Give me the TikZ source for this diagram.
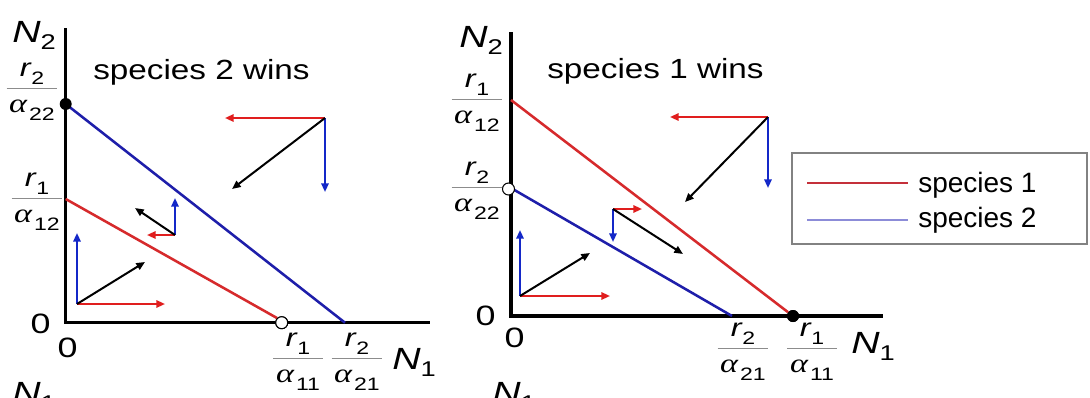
\documentclass[tikz,border=0pt]{standalone}
\usepackage{fontspec}
\usetikzlibrary{arrows.meta}
\newfontfamily\sfw[FakeStretch=1.28]{Liberation Sans}
\newfontfamily\sft[FakeStretch=1.2]{Liberation Sans}
\newfontfamily\sfn{Liberation Sans}
\newfontfamily\grk[FakeStretch=1.28]{Liberation Serif}
\definecolor{plotred}{RGB}{214,42,44}
\definecolor{plotblue}{RGB}{30,30,170}
\definecolor{arrred}{RGB}{224,30,30}
\definecolor{arrblue}{RGB}{20,40,200}
\definecolor{legred}{RGB}{196,48,58}
\definecolor{legblue}{RGB}{140,140,216}
\definecolor{fracgray}{RGB}{140,140,140}
\definecolor{boxgray}{RGB}{130,130,130}
\newcommand\rsym[1]{{\fontsize{19}{19}\selectfont\sfw\itshape r}\kern0.5pt\raisebox{-6pt}{\fontsize{13.5}{13.5}\selectfont\sfw #1}}
\newcommand\asym[1]{{\fontsize{20}{20}\selectfont\grk\itshape α}\kern1.5pt\raisebox{-6.5pt}{\fontsize{13.5}{13.5}\selectfont\sfw #1}}
\newcommand\fr[2]{\vbox{\halign{\hfil\kern2pt##\kern2pt\hfil\cr\smash{#1}\cr\noalign{\kern8.5pt{\color{fracgray}\hrule height 1pt}\kern17pt}\smash{#2}\cr}}}
\newcommand\Nlab[1]{{\fontsize{23}{23}\selectfont\sfw\itshape N}\raisebox{-5.5pt}{\fontsize{16}{16}\selectfont\sfw #1}}
\tikzset{
  axis/.style={line width=2.3pt, black},
  redl/.style={line width=1.9pt, plotred},
  bluel/.style={line width=1.9pt, plotblue},
  arr/.style={line width=1.5pt, -{Triangle[length=6.5pt,width=5.5pt]}},
  rarr/.style={arr, arrred},
  barr/.style={arr, arrblue},
  karr/.style={arr, black},
  lbl/.style={inner sep=0pt, anchor=base west},
  frac/.style={inner sep=0pt, anchor=base},
  zero/.style={inner sep=0pt, font=\sfw\fontsize{21}{21}\selectfont},
  title/.style={inner sep=0pt, anchor=base west, font=\sft\fontsize{20.8}{21}\selectfont},
  legtxt/.style={inner sep=0pt, anchor=base west, font=\sfn\fontsize{21}{21}\selectfont},
  fulldot/.style={circle, fill=black, inner sep=0pt, minimum size=9pt},
  opendot/.style={circle, fill=white, draw=black, line width=0.8pt, inner sep=0pt, minimum size=9pt},
}
\begin{document}
\begin{tikzpicture}[x=0.75pt, y=-0.75pt]
\useasboundingbox (0,0) rectangle (1090,397);
\clip (0,0) rectangle (1090,397);
\fill[white] (0,0) rectangle (1090,397);

% ---------------- left panel ----------------
\coordinate (lorig) at (65.7,322.7);
\coordinate (lytop) at (65.7,28);
\coordinate (lxend) at (430,322.7);
\coordinate (lb0) at (65.7,104);
\coordinate (lb1) at (345,322.7);
\coordinate (lr0) at (65.7,199);
\draw[axis] (lytop) -- (lorig) -- (lxend);
\node[opendot] (lopen) at (281.7,322.7) {};
\draw[bluel] (lb0) -- (lb1);
\draw[redl] (lr0) -- (lopen.north west);
\node[opendot] at (lopen) {};
\node[fulldot] (lfull) at (lb0) {};

\node[lbl] (lN2) at (12,42) {\Nlab{2}};
\node[lbl] (lN1) at (392,369) {\Nlab{1}};
\node[title] (ltitle) at (93,79) {species 2 wins};
\node[zero] (lzy) at (40.5,324) {0};
\node[zero] (lzx) at (67.5,347.5) {0};
\node[frac] (lf1) at (32,112) {\fr{\rsym{2}}{\asym{22}}};
\node[frac] (lf2) at (37,222) {\fr{\rsym{1}}{\asym{12}}};
\node[frac] (lf3) at (298,382) {\fr{\rsym{1}}{\asym{11}}};
\node[frac] (lf4) at (357,382) {\fr{\rsym{2}}{\asym{21}}};

\coordinate (la) at (77,304);
\coordinate (la1) at (77,233);
\coordinate (la2) at (165,304);
\coordinate (la3) at (145,262);
\draw[barr] (la) -- (la1);
\draw[rarr] (la) -- (la2);
\draw[karr] (la) -- (la3);
\coordinate (lp) at (175,235);
\coordinate (lp1) at (175,198);
\coordinate (lp2) at (147,235);
\coordinate (lp3) at (135,208);
\draw[barr] (lp) -- (lp1);
\draw[rarr] (lp) -- (lp2);
\draw[karr] (lp) -- (lp3);
\coordinate (lq) at (325,118);
\coordinate (lq1) at (225,118);
\coordinate (lq2) at (325,192);
\coordinate (lq3) at (232,189);
\draw[rarr] (lq) -- (lq1);
\draw[barr] (lq) -- (lq2);
\draw[karr] (lq) -- (lq3);

% ---------------- right panel ----------------
\coordinate (rorig) at (511,316);
\coordinate (rytop) at (511,32);
\coordinate (rxend) at (883,316);
\coordinate (rr0) at (511,100);
\coordinate (rb0) at (511,188);
\coordinate (rb1) at (732,316);
\draw[axis] (rytop) -- (rorig) -- (rxend);
\node[fulldot] (rfull) at (793,316) {};
\draw[redl] (rr0) -- (rfull);
\draw[bluel] (rb0) -- (rb1);
\node[fulldot] at (rfull) {};
\node[opendot] (ropen) at (508.5,189) {};

\node[lbl] (rN2) at (459,47) {\Nlab{2}};
\node[lbl] (rN1) at (851,353) {\Nlab{1}};
\node[title] (rtitle) at (547,78) {species 1 wins};
\node[zero] (rzy) at (485.5,316) {0};
\node[zero] (rzx) at (514.5,338) {0};
\node[frac] (rf1) at (477,123) {\fr{\rsym{1}}{\asym{12}}};
\node[frac] (rf2) at (477,211) {\fr{\rsym{2}}{\asym{22}}};
\node[frac] (rf3) at (743,372) {\fr{\rsym{2}}{\asym{21}}};
\node[frac] (rf4) at (812,372) {\fr{\rsym{1}}{\asym{11}}};

\coordinate (ra) at (520,296);
\coordinate (ra1) at (520,230);
\coordinate (ra2) at (610,296);
\coordinate (ra3) at (590,253);
\draw[barr] (ra) -- (ra1);
\draw[rarr] (ra) -- (ra2);
\draw[karr] (ra) -- (ra3);
\coordinate (rp) at (613,209);
\coordinate (rp1) at (642,209);
\coordinate (rp2) at (613,242);
\coordinate (rp3) at (683,254);
\draw[rarr] (rp) -- (rp1);
\draw[barr] (rp) -- (rp2);
\draw[karr] (rp) -- (rp3);
\coordinate (rq) at (768,117);
\coordinate (rq1) at (670,117);
\coordinate (rq2) at (768,188);
\coordinate (rq3) at (685,202);
\draw[rarr] (rq) -- (rq1);
\draw[barr] (rq) -- (rq2);
\draw[karr] (rq) -- (rq3);

% ---------------- legend ----------------
\draw[boxgray, line width=1.1pt] (792,153) rectangle (1087,244);
\coordinate (lg1a) at (807,183);
\coordinate (lg1b) at (908,183);
\coordinate (lg2a) at (807,220);
\coordinate (lg2b) at (908,220);
\draw[legred, line width=1.8pt] (lg1a) -- (lg1b);
\draw[legblue, line width=1.8pt] (lg2a) -- (lg2b);
\node[legtxt] (leg1) at (918,192) {species 1};
\node[legtxt] (leg2) at (918,227) {species 2};

% ---------------- cut-off labels of the next row ----------------
\node[lbl] (nextN1) at (12,403) {\Nlab{1}};
\node[lbl] (nextN2) at (492,403) {\Nlab{1}};
\end{tikzpicture}
\end{document}
